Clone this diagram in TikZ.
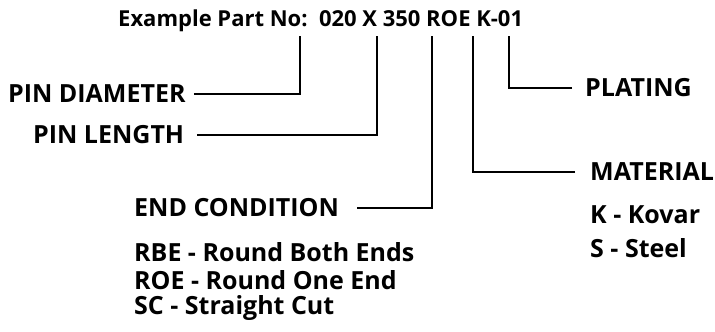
\documentclass[tikz,border=0pt]{standalone}
\usepackage{fontspec}
\setmainfont{Open Sans}
\usepackage{tikz}

\begin{document}
\begin{tikzpicture}[x=1pt,y=-1pt,
  lbl/.style={anchor=west,inner sep=0pt,font=\bfseries\fontsize{25}{29}\selectfont},
  ttl/.style={anchor=west,inner sep=0pt,font=\bfseries\fontsize{22}{26}\selectfont},
  lead/.style={draw=black,line width=1.6pt,line cap=butt,line join=miter}]
% 715 x 332, white, part number key
\useasboundingbox[fill=white] (0,0) rectangle (715,332);
\node[ttl] (title) at (118,21) {Example Part No:\ \ 020 X 350 ROE K-01};
\coordinate (dia) at (300,36);
\coordinate (len) at (377,36);
\coordinate (endc) at (432,36);
\coordinate (matl) at (473,36);
\coordinate (plat) at (509,36);
\node[lbl] (pd) at (8,94) {PIN DIAMETER};
\node[lbl] (pl) at (33,135) {PIN LENGTH};
\node[lbl] (ec) at (134,208) {END CONDITION};
\node[lbl] (rbe) at (134,252) {RBE - Round Both Ends};
\node[lbl] (roe) at (134,280) {ROE - Round One End};
\node[lbl] (sc) at (134,308) {SC - Straight Cut};
\node[lbl] (mat) at (590,172) {MATERIAL};
\node[lbl] (kov) at (590,215) {K - Kovar};
\node[lbl] (stl) at (590,248) {S - Steel};
\node[lbl] (pla) at (585,88) {PLATING};
\path[lead] ([xshift=8]pd.east) -| (dia);
\path[lead] ([xshift=13]pl.east) -| (len);
\path[lead] ([xshift=18]ec.east) -| (endc);
\path[lead] ([xshift=-15]mat.west) -| (matl);
\path[lead] ([xshift=-13]pla.west) -| (plat);
\end{tikzpicture}
\end{document}
